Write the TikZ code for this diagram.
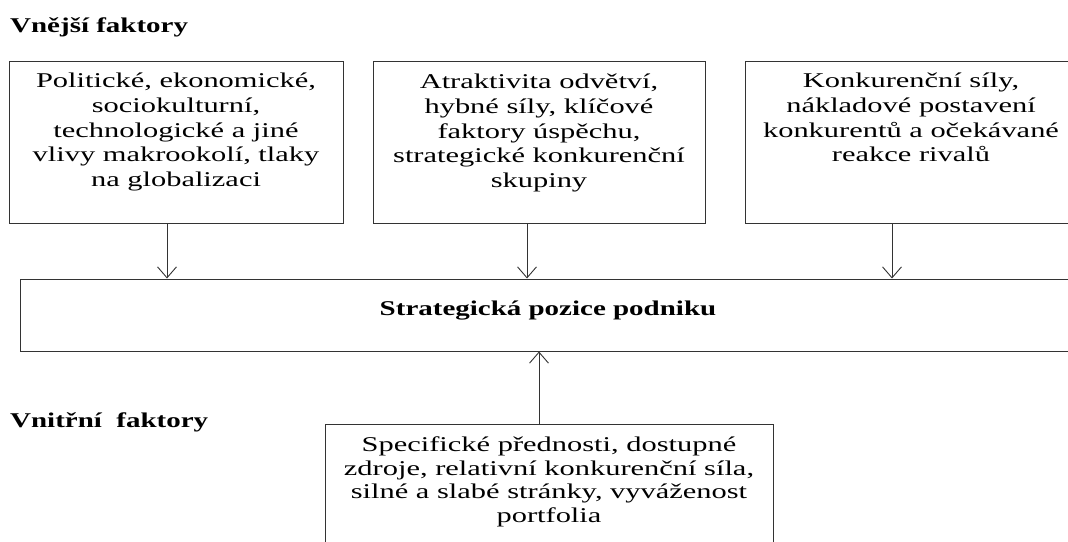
\documentclass[tikz,border=0pt]{standalone}
\usepackage{fontspec}
\setmainfont[FakeStretch=1.38]{Liberation Serif}
\newfontfamily\boxfont[FakeStretch=1.45]{Liberation Serif}
\usetikzlibrary{arrows.meta}
\begin{document}
\begin{tikzpicture}[x=1pt,y=-1pt,
  frame/.style={draw=black!80,line width=1pt,rectangle,inner sep=0pt},
  boxtext/.style={anchor=north,align=center,inner sep=0pt,
    font=\boxfont\fontsize{21}{24.7}\selectfont},
  heading/.style={anchor=base west,inner sep=0pt,font=\fontsize{21}{24}\selectfont\bfseries},
  link/.style={draw=black!80,line width=0.9pt,-{Straight Barb[length=11pt,width=19pt,line width=0.9pt]}}]
\useasboundingbox (0,0) rectangle (1068,541);
\clip (0,0) rectangle (1068,541);
\fill[white] (0,0) rectangle (1068,541);

% headings
\node[heading] (ext) at (10,32) {Vnější\ faktory};
\node[heading] (int) at (10,427) {Vnitřní\ \ faktory};

% external factor boxes
\node[frame,minimum width=334pt,minimum height=162pt] (b1) at (176,142) {};
\node[frame,minimum width=332pt,minimum height=162pt] (b2) at (539,142) {};
\node[frame,minimum width=332pt,minimum height=162pt] (b3) at (911,142) {};

\node[boxtext] (t1) at (176,73) {Politické, ekonomické,\\sociokulturní,\\technologické a jiné\\vlivy makrookolí, tlaky\\na globalizaci};
\node[boxtext] (t2) at (539,74) {Atraktivita odvětví,\\hybné síly, klíčové\\faktory úspěchu,\\strategické konkurenční\\skupiny};
\node[boxtext] (t3) at (911,73) {Konkurenční síly,\\nákladové postavení\\konkurentů a očekávané\\reakce rivalů};

% strategic position
\node[frame,minimum width=1056pt,minimum height=72pt] (pos) at (548,315) {};
\node[anchor=base,inner sep=0pt,font=\fontsize{21}{24}\selectfont\bfseries] (tpos) at (548,315) {Strategická pozice podniku};

% internal factors box
\node[frame,minimum width=448pt,minimum height=150pt] (b4) at (549,499) {};
\node[boxtext,font=\boxfont\fontsize{21}{23.5}\selectfont] (t4) at (549,437) {Specifické přednosti, dostupné\\zdroje, relativní konkurenční síla,\\silné a slabé stránky, vyváženost\\portfolia};

% connectors
\draw[link] (b1.south -| 167,0) -- (pos.north -| 167,0);
\draw[link] (b2.south -| 527,0) -- (pos.north -| 527,0);
\draw[link] (b3.south -| 892,0) -- (pos.north -| 892,0);
\draw[link] (b4.north -| 539,0) -- (pos.south -| 539,0);
\end{tikzpicture}
\end{document}
